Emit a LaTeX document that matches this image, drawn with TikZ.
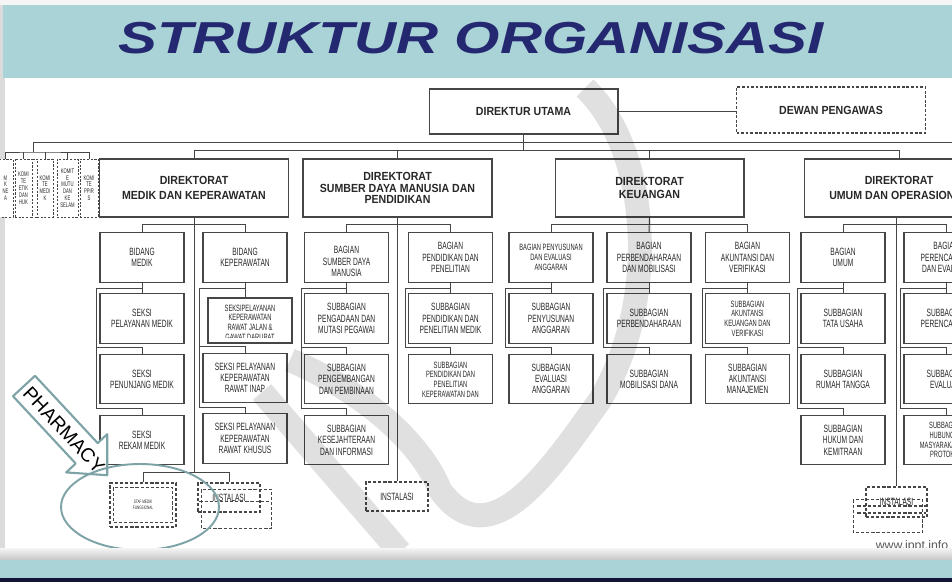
\documentclass[tikz,border=0pt]{standalone}
\usepackage{fontspec}
\setmainfont{Liberation Sans}
\newfontfamily\narrowfont[FakeStretch=0.63]{Liberation Sans}
\newfontfamily\dirfont[FakeStretch=0.9]{Liberation Sans}
\newfontfamily\titlefont[FakeStretch=1.3]{Liberation Sans}
\usetikzlibrary{positioning,calc}

\definecolor{band}{RGB}{170,211,215}
\definecolor{navy}{RGB}{36,40,112}
\definecolor{wire}{RGB}{70,70,70}
\definecolor{ink}{RGB}{40,40,40}
\definecolor{halo}{RGB}{125,163,166}

\begin{document}
\begin{tikzpicture}[x=0.02cm, y=-0.02cm,
    box/.style={draw=wire, line width=0.6pt, fill=white, text=ink, align=center, inner sep=1pt},
    dir/.style={box, minimum width=3.78cm, minimum height=1.16cm, font=\dirfont\bfseries\fontsize{6.7}{8.4}\selectfont},
    unittext/.style={font=\narrowfont\fontsize{6}{6.4}\selectfont},
    smalltext/.style={font=\narrowfont\fontsize{5.2}{5.5}\selectfont},
    unit/.style={box, unittext, minimum width=1.68cm, minimum height=0.99cm},
    komite/.style={box, line width=0.5pt, dash pattern=on 1.2pt off 0.9pt, minimum height=1.16cm, inner sep=0pt, font=\narrowfont\fontsize{3.8}{3.9}\selectfont},
    extra/.style={box, unittext, dash pattern=on 1.8pt off 1.1pt},
    cut/.style n args={3}{path picture={
        \clip ($(path picture bounding box.north west)+(0,1)$) rectangle ($(path picture bounding box.south east)+(0,-6)$);
        \node[#2, anchor=north, inner sep=0pt, align=center, text=ink, draw=none, fill=none, minimum width=0pt, minimum height=0pt] at ([yshift=-#1]path picture bounding box.north) {#3};}},
    link/.style={draw=wire, line width=0.55pt}
  ]
  \useasboundingbox (0,0) rectangle (952,582);
  \clip (0,0) rectangle (952,582);
  % slide
  \fill[black!14] (0,0) rectangle (952,582);
  \fill[black!4] (0,0) rectangle (952,5);
  \fill[band] (3,5) rectangle (952,78);
  \fill[white] (5,78) rectangle (952,548);
  \node[font=\titlefont\bfseries\itshape\fontsize{25.5}{28}\selectfont, text=navy] (title) at (471,38) {STRUKTUR ORGANISASI};

  % top of the chart
  \node[dir, minimum height=0.9cm] (du) at (523.5,111.5) {DIREKTUR UTAMA};
  \node[dir, dash pattern=on 1.6pt off 1pt, minimum height=0.92cm] (dp) at (831,110) {DEWAN PENGAWAS};

  \node[dir] (dm) at (194,188) {DIREKTORAT\\MEDIK DAN KEPERAWATAN};
  \node[dir, font=\dirfont\bfseries\fontsize{6.7}{6.4}\selectfont] (ds) at (397.5,188) {DIREKTORAT\\SUMBER DAYA MANUSIA DAN\\PENDIDIKAN};
  \node[dir, font=\dirfont\bfseries\fontsize{6.7}{7.4}\selectfont] (dk) at (649.5,188) {DIREKTORAT\\KEUANGAN};
  \node[dir] (dg) at (899,188) {DIREKTORAT\\UMUM DAN OPERASIONAL};

  % komite
  \node[komite, minimum width=0.3cm] (k1) at (5.5,188) {M\\K\\NE\\A};
  \draw[wire, line width=0.5pt, dash pattern=on 1.2pt off 0.9pt] (30,159) rectangle (37,217);
  \node[komite, minimum width=0.34cm] (k2) at (23.5,188) {KOMI\\TE\\ETIK\\DAN\\HUK};
  \node[komite, minimum width=0.32cm] (k3) at (45,188) {KOMI\\TE\\MEDI\\K};
  \node[komite, minimum width=0.42cm] (k4) at (67.5,188) {KOMIT\\E\\MUTU\\DAN\\KE\\SELAM};
  \node[komite, minimum width=0.36cm] (k5) at (89,188) {KOMI\\TE\\PPIR\\S};

  % medik dan keperawatan
  \node[unit] (bm) at (142,257.5) {BIDANG\\MEDIK};
  \node[unit, below=0.21cm of bm] (sm1) {SEKSI\\PELAYANAN MEDIK};
  \node[unit, below=0.2cm of sm1] (sm2) {SEKSI\\PENUNJANG MEDIK};
  \node[unit, below=0.21cm of sm2] (sm3) {SEKSI\\REKAM MEDIK};
  \node[unit] (bk) at (245,257.5) {BIDANG\\KEPERAWATAN};
  \node[unit, minimum height=0.9cm, cut={3.5pt}{smalltext}{SEKSIPELAYANAN\\KEPERAWATAN\\RAWAT JALAN \&\\GAWAT DARURAT}] (sk1) at (250,320.5) {};
  \node[unit] (sk2) at (245,378) {SEKSI PELAYANAN\\KEPERAWATAN\\RAWAT INAP};
  \node[unit] (sk3) at (245,438.5) {SEKSI PELAYANAN\\KEPERAWATAN\\RAWAT KHUSUS};
  \node[extra, minimum width=1.32cm, minimum height=0.88cm, font=\narrowfont\fontsize{2.8}{3.2}\selectfont] (smf) at (143,505) {STAF MEDIK\\FUNGSIONAL};
  \node[extra, minimum width=1.24cm, minimum height=0.58cm] (ins1) at (229,497.5) {INSTALASI};

  % sumber daya manusia dan pendidikan
  \node[unit, cut={7.5pt}{unittext}{BAGIAN\\SUMBER DAYA\\MANUSIA}] (bs) at (346.5,257.5) {};
  \node[unit, below=0.21cm of bs] (ss1) {SUBBAGIAN\\PENGADAAN DAN\\MUTASI PEGAWAI};
  \node[unit, below=0.2cm of ss1] (ss2) {SUBBAGIAN\\PENGEMBANGAN\\DAN PEMBINAAN};
  \node[unit, below=0.21cm of ss2] (ss3) {SUBBAGIAN\\KESEJAHTERAAN\\DAN INFORMASI};
  \node[unit] (bp) at (450.5,257.5) {BAGIAN\\PENDIDIKAN DAN\\PENELITIAN};
  \node[unit, below=0.21cm of bp] (sp1) {SUBBAGIAN\\PENDIDIKAN DAN\\PENELITIAN MEDIK};
  \node[unit, below=0.2cm of sp1, cut={4pt}{smalltext}{SUBBAGIAN\\PENDIDIKAN DAN\\PENELITIAN\\KEPERAWATAN DAN}] (sp2) {};
  \node[extra, minimum width=1.24cm, minimum height=0.58cm] (ins2) at (397,496.5) {INSTALASI};

  % keuangan
  \node[unit, smalltext] (be) at (551,257.5) {BAGIAN PENYUSUNAN\\DAN EVALUASI\\ANGGARAN};
  \node[unit, below=0.21cm of be] (se1) {SUBBAGIAN\\PENYUSUNAN\\ANGGARAN};
  \node[unit, below=0.2cm of se1] (se2) {SUBBAGIAN\\EVALUASI\\ANGGARAN};
  \node[unit] (bb) at (649,257.5) {BAGIAN\\PERBENDAHARAAN\\DAN MOBILISASI};
  \node[unit, below=0.21cm of bb] (sb1) {SUBBAGIAN\\PERBENDAHARAAN};
  \node[unit, below=0.2cm of sb1] (sb2) {SUBBAGIAN\\MOBILISASI DANA};
  \node[unit] (ba) at (747.5,257.5) {BAGIAN\\AKUNTANSI DAN\\VERIFIKASI};
  \node[unit, smalltext, below=0.21cm of ba] (sa1) {SUBBAGIAN\\AKUNTANSI\\KEUANGAN DAN\\VERIFIKASI};
  \node[unit, below=0.2cm of sa1] (sa2) {SUBBAGIAN\\AKUNTANSI\\MANAJEMEN};

  % umum dan operasional
  \node[unit] (bu) at (843,257.5) {BAGIAN\\UMUM};
  \node[unit, below=0.21cm of bu] (su1) {SUBBAGIAN\\TATA USAHA};
  \node[unit, below=0.2cm of su1] (su2) {SUBBAGIAN\\RUMAH TANGGA};
  \node[unit, below=0.21cm of su2] (su3) {SUBBAGIAN\\HUKUM DAN\\KEMITRAAN};
  \node[unit] (br) at (946,257.5) {BAGIAN\\PERENCANAAN\\DAN EVALUASI};
  \node[unit, below=0.21cm of br] (sr1) {SUBBAGIAN\\PERENCANAAN};
  \node[unit, below=0.2cm of sr1] (sr2) {SUBBAGIAN\\EVALUASI};
  \node[unit, smalltext, below=0.21cm of sr2] (sr3) {SUBBAGIAN\\HUBUNGAN\\MASYARAKAT DAN\\PROTOKOL};
  \node[extra, minimum width=1.22cm, minimum height=0.6cm] (ins3) at (896.5,502) {INSTALASI};

  % stacked outlines
  \draw[wire, dash pattern=on 1.8pt off 1.1pt, line width=0.6pt] ($(smf.north west)+(4,5)$) rectangle ($(smf.south east)+(-4,-5)$);
  \draw[wire, dash pattern=on 1.8pt off 1.1pt, line width=0.6pt] ($(ins1.north west)+(4,7)$) rectangle ($(ins1.south east)+(11,16)$);
  \draw[wire, dash pattern=on 1.8pt off 1.1pt, line width=0.6pt] ($(ins1.west)+(2,4)$) -- ($(ins1.east)+(9,4)$);
  \draw[wire, dash pattern=on 1.8pt off 1.1pt, line width=0.6pt] ($(ins3.north west)+(-12,13)$) rectangle ($(ins3.south east)+(-5,15)$);
  \draw[wire, dash pattern=on 1.8pt off 1.1pt, line width=0.6pt] ($(ins3.west)+(-8,4)$) -- ($(ins3.east)+(-2,4)$);
  \draw[wire, dash pattern=on 1.8pt off 1.1pt, line width=0.6pt] ($(ins3.west)+(-8,11)$) -- ($(ins3.east)+(-2,11)$);

  % lines from the top
  \coordinate (jt) at ($(du.south)+(0,16)$);
  \coordinate (kb) at (33,142);
  \coordinate (rb) at (952,142);
  \coordinate (kj) at (33,152);
  \draw[link] (du.east) -- (du.east -| dp.west);
  \draw[link] (du.south) -- (jt);
  \draw[link] (dm.north) |- (jt) -| (dg.north);
  \draw[link] (ds.north) -- (ds.north |- jt);
  \draw[link] (dk.north) -- (dk.north |- jt);
  \draw[link] (rb) -- (kb) -- (kj);
  \draw[link] (k1.north) |- (kj) -| (k5.north);
  \draw[link] (k2.north) -- (k2.north |- kj);
  \draw[link] (k3.north) -- (k3.north |- kj);
  \draw[link] (k4.north) -- (k4.north |- kj);

  % direktorat to bagian
  \draw[link] (bm.north) |- ($(dm.south)+(0,7)$) -| (bk.north);
  \draw[link] (bs.north) |- ($(ds.south)+(0,7)$) -| (bp.north);
  \draw[link] (be.north) |- ($(dk.south)+(0,7)$) -| (ba.north);
  \draw[link] (dk.south) -- (bb.north);
  \draw[link] (bu.north) |- ($(dg.south)+(0,7)$) -| (br.north);
  \coordinate (mj) at ($(smf.north)+(0,-10)$);
  \draw[link] (dm.south) -- (dm.south |- mj);
  \draw[link] (smf.north) -- (mj) -| (ins1.north);
  \draw[link] (ds.south) -- (ds.south |- ins2.north);
  \draw[link] (dg.south -| ins3.north) -- (ins3.north);

  % bagian to subbagian
  \draw[link] (bm) -- (sm1);
  \draw[link] ($(bm.south)+(0,6)$) -| ($(bm.west |- sm3.north)+(-3,-6)$) -| (sm3.north);
  \draw[link] ($(bm.west |- sm2.north)+(-3,-6)$) -| (sm2.north);
  \draw[link] (bk.south) -- (bk.south |- sk1.north);
  \draw[link] ($(bk.south)+(0,6)$) -| ($(bk.west |- sk3.north)+(-3,-6)$) -| (sk3.north);
  \draw[link] ($(bk.west |- sk2.north)+(-3,-6)$) -| (sk2.north);
  \draw[link] (bs) -- (ss1);
  \draw[link] ($(bs.south)+(0,6)$) -| ($(bs.west |- ss3.north)+(-3,-6)$) -| (ss3.north);
  \draw[link] ($(bs.west |- ss2.north)+(-3,-6)$) -| (ss2.north);
  \draw[link] (bp) -- (sp1);
  \draw[link] ($(bp.south)+(0,6)$) -| ($(bp.west |- sp2.north)+(-3,-6)$) -| (sp2.north);
  \draw[link] (be) -- (se1);
  \draw[link] ($(be.south)+(0,6)$) -| ($(be.west |- se2.north)+(-3,-6)$) -| (se2.north);
  \draw[link] (bb) -- (sb1);
  \draw[link] ($(bb.south)+(0,6)$) -| ($(bb.west |- sb2.north)+(-3,-6)$) -| (sb2.north);
  \draw[link] (ba) -- (sa1);
  \draw[link] ($(ba.south)+(0,6)$) -| ($(ba.west |- sa2.north)+(-3,-6)$) -| (sa2.north);
  \draw[link] (bu) -- (su1);
  \draw[link] ($(bu.south)+(0,6)$) -| ($(bu.west |- su3.north)+(-3,-6)$) -| (su3.north);
  \draw[link] ($(bu.west |- su2.north)+(-3,-6)$) -| (su2.north);
  \draw[link] (br) -- (sr1);
  \draw[link] ($(br.south)+(0,6)$) -| ($(br.west |- sr3.north)+(-3,-6)$) -| (sr3.north);
  \draw[link] ($(br.west |- sr2.north)+(-3,-6)$) -| (sr2.north);

  % watermark
  \begin{scope}[opacity=0.12, line width=0.48cm]
    \draw (262,392) -- (400,552);
    \draw (585,88) .. controls (650,150) and (660,300) .. (600,400) .. controls (550,470) and (490,560) .. (440,490) .. controls (420,440) and (360,390) .. (290,360);
  \end{scope}

  % pharmacy callout
  \draw[halo, line width=1.2pt, fill=white, line join=round] (35,375.8) -- (97.7,443.1) -- (107.2,434.2) -- (107.2,475.2) -- (66.2,472.4) -- (75.7,463.5) -- (13,396.2) -- cycle;
  \node[rotate=-47, font=\fontsize{11}{12}\selectfont] (ph) at (64,430) {PHARMACY};
  \draw[halo, line width=1.1pt] (140,507) ellipse [x radius=1.58cm, y radius=0.86cm];

  \node[font=\fontsize{7}{8}\selectfont, text=black!65] (web) at (912,546) {www.ippt.info};

  % bottom of the slide
  \shade[top color=black!4, bottom color=black!22] (0,548) rectangle (952,560);
  \fill[band] (0,560) rectangle (952,578);
  \fill[navy!50!black] (0,578) rectangle (952,582);
\end{tikzpicture}
\end{document}
